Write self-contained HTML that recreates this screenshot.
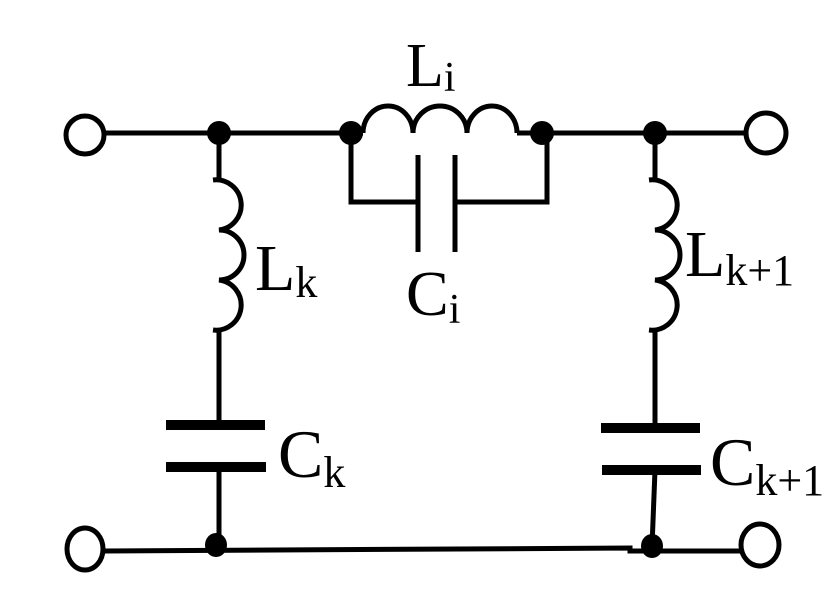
<!DOCTYPE html>
<html><head><meta charset="utf-8"><style>html,body{margin:0;padding:0;background:#fff}</style></head>
<body>
<svg width="834" height="599" viewBox="0 0 834 599" xmlns="http://www.w3.org/2000/svg">
<g fill="none" stroke="#000" stroke-width="5">
<!-- top wire -->
<line x1="104" y1="133" x2="363" y2="133"/>
<line x1="517" y1="133" x2="746" y2="133"/>
<circle cx="85" cy="135" r="19"/>
<circle cx="766" cy="133" r="20"/>
<!-- Li -->
<path d="M363 133 A25 27 0 0 1 413 133 A27 27 0 0 1 467 133 A25 27 0 0 1 517 133"/>
<!-- Ci bracket -->
<polyline points="351,133 351,202 418,202"/>
<polyline points="547,133 547,202 455,202"/>
<line x1="418" y1="155" x2="418" y2="252"/>
<line x1="455" y1="155" x2="455" y2="252"/>
<!-- Lk -->
<line x1="219" y1="133" x2="219" y2="180"/>
<path d="M213 180 A25 25 0 0 1 219 230 A25 25 0 0 1 219 280 A25 25 0 0 1 213 330"/>
<line x1="219" y1="330" x2="219" y2="425"/>
<line x1="219" y1="467" x2="219" y2="545"/>
<!-- Lk+1 -->
<line x1="655" y1="133" x2="655" y2="180"/>
<path d="M649 180 A25 25 0 0 1 655 230 A25 25 0 0 1 655 280 A25 25 0 0 1 649 330"/>
<line x1="655" y1="330" x2="655" y2="428"/>
<line x1="655" y1="470" x2="652" y2="547"/>
<!-- bottom -->
<polyline points="104,551 630,548 630,551 741,551"/>
<ellipse cx="85" cy="549" rx="18" ry="21"/>
<ellipse cx="760" cy="545" rx="19" ry="21"/>
</g>
<g fill="#000">
<rect x="166" y="420" width="99" height="10"/>
<rect x="166" y="462" width="100" height="10"/>
<rect x="601" y="423" width="99" height="10"/>
<rect x="602" y="465" width="99" height="10"/>
<circle cx="219" cy="133" r="12"/>
<circle cx="351" cy="133" r="12"/>
<circle cx="542" cy="133" r="12"/>
<circle cx="655" cy="133" r="12"/>
<ellipse cx="216" cy="545" rx="11" ry="12"/>
<ellipse cx="652" cy="546" rx="11" ry="12"/>
</g>
<g font-family="Liberation Serif, serif" fill="#000">
<text x="406" y="86" font-size="62">L<tspan font-size="42" dy="5">i</tspan></text>
<text x="255" y="290" font-size="66">L<tspan font-size="44" dy="7">k</tspan></text>
<text x="406" y="315" font-size="64">C<tspan font-size="42" dy="8">i</tspan></text>
<text x="685" y="276" font-size="66">L<tspan font-size="44" dy="9">k+1</tspan></text>
<text x="278" y="477" font-size="68">C<tspan font-size="44" dy="10">k</tspan></text>
<text x="710" y="485" font-size="68">C<tspan font-size="44" dy="10">k+1</tspan></text>
</g>
</svg>
</body></html>
